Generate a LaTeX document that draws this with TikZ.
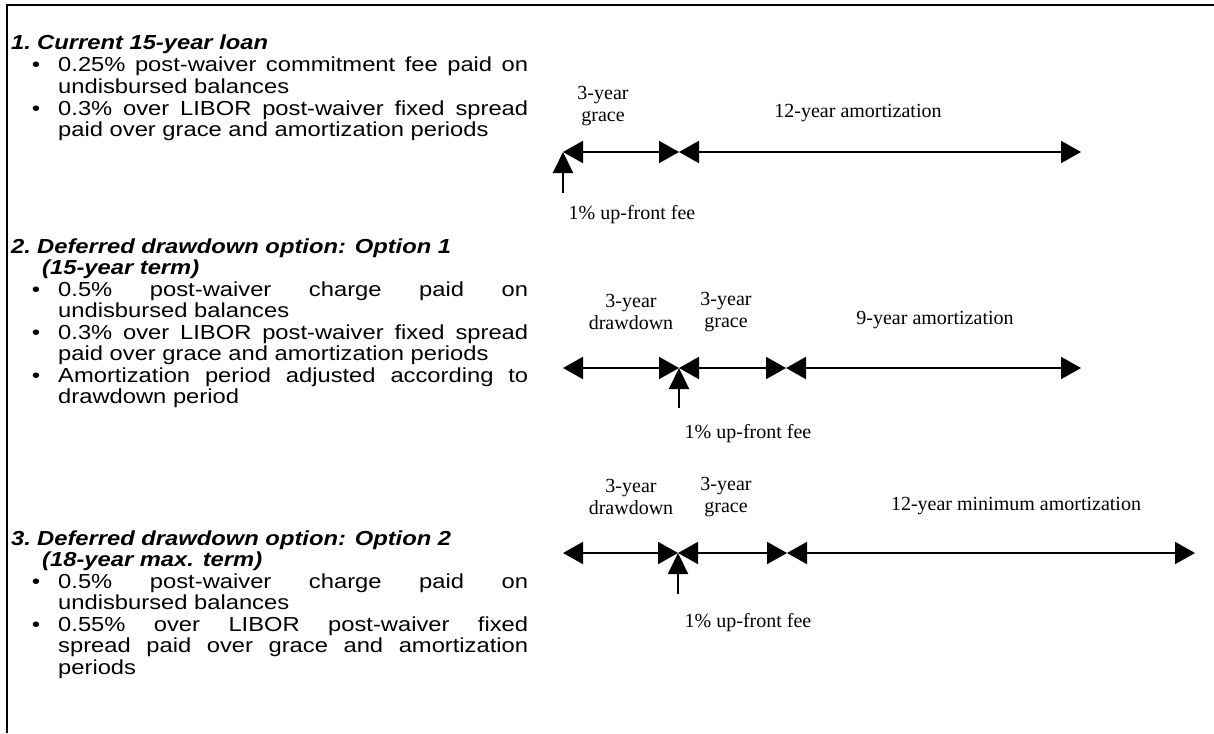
\documentclass[tikz,border=0pt]{standalone}
\usepackage{fontspec}
\setmainfont{Liberation Sans}[FakeStretch=1.17]
\newfontfamily\tnr{Liberation Serif}
\usetikzlibrary{arrows.meta}
\newcommand{\jl}[1]{\makebox[470pt][s]{#1}}
\begin{document}
\begin{tikzpicture}[x=1pt,y=-1pt,
 txt/.style={anchor=base west, inner sep=0pt, font=\fontsize{20.3}{21.5}\selectfont},
 hd/.style={anchor=base west, inner sep=0pt, font=\fontsize{20.3}{21.5}\selectfont\bfseries\itshape},
 bul/.style={anchor=base, inner sep=0pt, font=\fontsize{20.3}{21.5}\selectfont},
 lbl/.style={align=center, inner sep=0pt, font=\fontsize{20}{21.5}\selectfont\tnr},
 seg/.style={line width=2pt, {Triangle[length=20pt,width=22pt]}-{Triangle[length=20pt,width=22pt]}},
 fee/.style={line width=2pt, -{Triangle[length=21pt,width=20pt]}},
 frame/.style={line width=2.5pt}]
\useasboundingbox (0,0) rectangle (1214,733);
% frame
\draw[frame] (1214,5) -- (7,5) -- (7,733);

% ---------- Section 1 ----------
\node[hd] (n1) at (11,50) {1.};
\node[hd] (h1) at (37,50) {Current 15-year loan};
\node[bul] (b11) at (36,72) {•};
\node[txt] (t11) at (58,72) {\jl{0.25\% post-waiver commitment fee paid on}};
\node[txt] (t12) at (58,93.5) {undisbursed balances};
\node[bul] (b12) at (36,115) {•};
\node[txt] (t13) at (58,115) {\jl{0.3\% over LIBOR post-waiver fixed spread}};
\node[txt] (t14) at (58,136.5) {paid over grace and amortization periods};

% ---------- Section 2 ----------
\node[hd] (n2) at (11,253) {2.};
\node[hd] (h2) at (37,253) {Deferred drawdown option: Option 1};
\node[hd] (h2b) at (42,274.5) {(15-year term)};
\node[bul] (b21) at (36,296) {•};
\node[txt] (t21) at (58,296) {\jl{0.5\% post-waiver charge paid on}};
\node[txt] (t22) at (58,317.5) {undisbursed balances};
\node[bul] (b22) at (36,339) {•};
\node[txt] (t23) at (58,339) {\jl{0.3\% over LIBOR post-waiver fixed spread}};
\node[txt] (t24) at (58,360.5) {paid over grace and amortization periods};
\node[bul] (b23) at (36,382) {•};
\node[txt] (t25) at (58,382) {\jl{Amortization period adjusted according to}};
\node[txt] (t26) at (58,403.5) {drawdown period};

% ---------- Section 3 ----------
\node[hd] (n3) at (11,545) {3.};
\node[hd] (h3) at (37,545) {Deferred drawdown option: Option 2};
\node[hd] (h3b) at (42,566.5) {(18-year max. term)};
\node[bul] (b31) at (36,588) {•};
\node[txt] (t31) at (58,588) {\jl{0.5\% post-waiver charge paid on}};
\node[txt] (t32) at (58,609.5) {undisbursed balances};
\node[bul] (b32) at (36,631) {•};
\node[txt] (t33) at (58,631) {\jl{0.55\% over LIBOR post-waiver fixed}};
\node[txt] (t34) at (58,652.5) {\jl{spread paid over grace and amortization}};
\node[txt] (t35) at (58,674) {periods};

% ---------- Timeline 1 ----------
\coordinate (a1) at (563,152);
\coordinate (a2) at (679,152);
\coordinate (a3) at (1081,152);
\coordinate (f1) at (563,193);
\draw[seg] (a1) -- (a2);
\draw[seg] (a2) -- (a3);
\draw[fee] (f1) -- (a1);
\node[lbl] (l11) at (603,106) {3-year\\grace};
\node[lbl] (l12) at (858,113) {12-year amortization};
\node[lbl] (l13) at (632,215) {1\% up-front fee};

% ---------- Timeline 2 ----------
\coordinate (b1) at (563,368);
\coordinate (b2) at (679,368);
\coordinate (b3) at (786,368);
\coordinate (b4) at (1081,368);
\coordinate (f2) at (679,408);
\draw[seg] (b1) -- (b2);
\draw[seg] (b2) -- (b3);
\draw[seg] (b3) -- (b4);
\draw[fee] (f2) -- (b2);
\node[lbl] (l21) at (631,312) {3-year\\drawdown};
\node[lbl] (l22) at (726,312) {3-year\\grace};
\node[lbl] (l23) at (935,320) {9-year amortization};
\node[lbl] (l24) at (748,434) {1\% up-front fee};

% ---------- Timeline 3 ----------
\coordinate (c1) at (563,553);
\coordinate (c2) at (678,553);
\coordinate (c3) at (787,553);
\coordinate (c4) at (1195,553);
\coordinate (f3) at (678,594);
\draw[seg] (c1) -- (c2);
\draw[seg] (c2) -- (c3);
\draw[seg] (c3) -- (c4);
\draw[fee] (f3) -- (c2);
\node[lbl] (l31) at (631,497) {3-year\\drawdown};
\node[lbl] (l32) at (726,497) {3-year\\grace};
\node[lbl] (l33) at (1016,506) {12-year minimum amortization};
\node[lbl] (l34) at (748,623) {1\% up-front fee};
\end{tikzpicture}
\end{document}
